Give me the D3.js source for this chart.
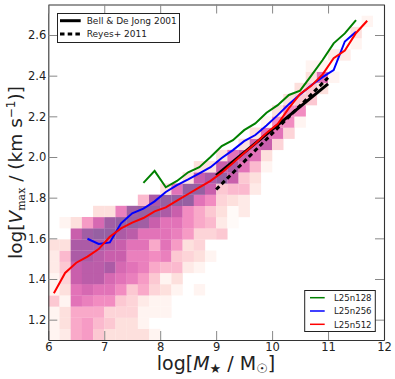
<!DOCTYPE html>
<html>
<head>
<meta charset="utf-8">
<script src="https://cdn.jsdelivr.net/npm/d3@7"></script>
<style>
  html, body { margin: 0; padding: 0; background: #fff; }
  text { font-family: "DejaVu Sans", sans-serif; fill: #222; }
</style>
</head>
<body>
<svg id="vis" width="395" height="379"></svg>
<script>
(function () {

  'use strict';

  // Colour level of each histogram cell, rows from the bottom, columns from logM = 6
  var binLevels = [
    [1, 1.5, 4, 4.5, 3, 2, 2, 2, 2, 1],
    [1, 2, 4, 4.5, 3.5, 3, 2, 2, 1, 0],
    [1, 2, 4, 4, 4, 2.5, 2.5, 2.5, 1, 1, 1],
    [3, 1, 6, 5.5, 5, 5, 3, 2.5, 1.5, 1, 1],
    [1, 2, 6, 6.5, 6, 6, 5, 3, 4, 2.5, 2, 1, 0, 1],
    [1, 2.5, 7, 7.5, 7.5, 6.5, 6, 5.5, 4.5, 3, 1, 2],
    [1.5, 3, 7, 7.5, 7.5, 8, 6.5, 6, 5.5, 4, 3.5, 3.5, 1.5, 1],
    [1.5, 3.5, 8, 8, 7.5, 7, 7, 5.5, 5.5, 5, 5.5, 3, 2.5, 2, 1],
    [2, 2, 8, 8, 8, 7.5, 7, 6, 6, 4, 6, 4.5, 2, 2.5],
    [0, 0, 7, 8.5, 9, 9, 8, 7.5, 6, 6, 6, 5.5, 4.5, 2.5, 2.5, 3],
    [0, 1, 2, 4.5, 6.5, 8.5, 9, 9, 8.5, 7, 6, 6, 5, 4, 3.5, 1.5, 0.5],
    [0, 0, 0, 0, 2, 2, 5.5, 8.5, 9, 9, 8, 7, 5, 4, 3, 2, 0.5, 1.5],
    [0, 0, 0, 0, 0, 0, 0, 0, 3.5, 8, 9, 9, 9, 6, 5, 2.5, 2, 1.5],
    [0, 0, 0, 0, 0, 0, 0, 0, 0, 0, 2, 6, 9, 9, 7, 3, 3.5, 3.5, 1.5],
    [0, 0, 0, 0, 0, 0, 0, 0, 0, 0, 0, 0, 2, 7, 8, 9, 7, 3, 2],
    [0, 0, 0, 0, 0, 0, 0, 0, 0, 0, 0, 0, 0, 2, 2, 7, 8, 6, 3.5, 1],
    [0, 0, 0, 0, 0, 0, 0, 0, 0, 0, 0, 0, 0, 0, 0, 2, 6, 7, 6, 2],
    [0, 0, 0, 0, 0, 0, 0, 0, 0, 0, 0, 0, 0, 0, 0, 0, 0, 2, 6.5, 7, 2.5],
    [0, 0, 0, 0, 0, 0, 0, 0, 0, 0, 0, 0, 0, 0, 0, 0, 0, 0, 2, 6, 6, 2.5],
    [0, 0, 0, 0, 0, 0, 0, 0, 0, 0, 0, 0, 0, 0, 0, 0, 0, 0, 0, 1, 5, 5, 1],
    [0, 0, 0, 0, 0, 0, 0, 0, 0, 0, 0, 0, 0, 0, 0, 0, 0, 0, 0, 0, 2, 5, 5],
    [0, 0, 0, 0, 0, 0, 0, 0, 0, 0, 0, 0, 0, 0, 0, 0, 0, 0, 0, 0, 0, 2, 3, 3],
    [0, 0, 0, 0, 0, 0, 0, 0, 0, 0, 0, 0, 0, 0, 0, 0, 0, 0, 0, 0, 0, 0, 2, 3, 2],
    [0, 0, 0, 0, 0, 0, 0, 0, 0, 0, 0, 0, 0, 0, 0, 0, 0, 0, 0, 0, 0, 0, 0, 2, 6, 1],
    [0, 0, 0, 0, 0, 0, 0, 0, 0, 0, 0, 0, 0, 0, 0, 0, 0, 0, 0, 0, 0, 0, 0, 1, 1],
    [0, 0, 0, 0, 0, 0, 0, 0, 0, 0, 0, 0, 0, 0, 0, 0, 0, 0, 0, 0, 0, 0, 0, 0, 0, 1.5, 1.5],
    [0, 0, 0, 0, 0, 0, 0, 0, 0, 0, 0, 0, 0, 0, 0, 0, 0, 0, 0, 0, 0, 0, 0, 0, 0, 0, 0, 1],
    [0, 0, 0, 0, 0, 0, 0, 0, 0, 0, 0, 0, 0, 0, 0, 0, 0, 0, 0, 0, 0, 0, 0, 0, 0, 0, 0, 2],
    [0, 0, 0, 0, 0, 0, 0, 0, 0, 0, 0, 0, 0, 0, 0, 0, 0, 0, 0, 0, 0, 0, 0, 0, 0, 0, 0, 0, 1]
  ];

  // Median relations
  var greenMass = [7.7, 7.9, 8.1, 8.3, 8.5, 8.7, 8.9, 9.1, 9.3, 9.5, 9.7, 9.9, 10.1, 10.3, 10.5, 10.7, 10.9, 11.1, 11.3, 11.5];
  var greenVmax = [1.873, 1.932, 1.851, 1.882, 1.925, 1.95, 2.0, 2.054, 2.083, 2.132, 2.165, 2.218, 2.255, 2.305, 2.326, 2.40, 2.476, 2.559, 2.608, 2.673];

  var blueMass = [6.7, 6.9, 7.1, 7.3, 7.5, 7.7, 7.9, 8.1, 8.3, 8.5, 8.7, 8.9, 9.1, 9.3, 9.5, 9.7, 9.9, 10.1, 10.3, 10.5, 10.7, 10.9, 11.1, 11.3, 11.5];
  var blueVmax = [1.598, 1.572, 1.58, 1.674, 1.723, 1.746, 1.782, 1.828, 1.862, 1.89, 1.92, 1.95, 1.995, 2.034, 2.078, 2.108, 2.155, 2.206, 2.26, 2.307, 2.353, 2.393, 2.427, 2.568, 2.616];

  var redMass = [6.1, 6.3, 6.5, 6.7, 6.9, 7.1, 7.3, 7.5, 7.7, 7.9, 8.1, 8.3, 8.5, 8.7, 8.9, 9.1, 9.3, 9.5, 9.7, 9.9, 10.1, 10.3, 10.5, 10.7, 10.9, 11.1, 11.3, 11.5, 11.7];
  var redVmax = [1.33, 1.43, 1.48, 1.51, 1.547, 1.608, 1.649, 1.677, 1.70, 1.733, 1.752, 1.785, 1.818, 1.851, 1.883, 1.923, 1.97, 2.02, 2.066, 2.118, 2.162, 2.24, 2.31, 2.35, 2.405, 2.486, 2.523, 2.61, 2.67];

  // Observed relations
  var bellMass = [9, 11];
  var bellVmax = [1.91, 2.36];
  var reyesMass = [9, 11];
  var reyesVmax = [1.84, 2.39];

  var xTicks = [6, 7, 8, 9, 10, 11, 12];
  var yTicks = [1.2, 1.4, 1.6, 1.8, 2.0, 2.2, 2.4, 2.6];

  var obsNames = ['Bell & De Jong 2001', 'Reyes+ 2011'];
  var simNames = ['L25n128', 'L25n256', 'L25n512'];

  // Settings
  var left = 48.3, right = 384, top = 4.5, bottom = 340;
  var binsPerSide = 30;

  var x = d3.scaleLinear().domain([6, 12]).range([left, right]);
  var y = d3.scaleLinear().domain([1.1, 2.75]).range([bottom, top]);

  var levelColor = d3.scaleLinear()
    .domain([0, 1, 2, 3, 4, 5, 6, 7, 8, 9])
    .range(['#ffffff', '#fff4f1', '#fde0dd', '#fcc8d2', '#f9a9c9', '#f28cc1', '#e273b8', '#c95fac', '#ac5ba6', '#9660a2']);

  var svg = d3.select('#vis');

  drawHist();
  drawLine(bellMass, bellVmax, '#000', 3, null);
  drawLine(reyesMass, reyesVmax, '#000', 3, '4.5,3.2');
  drawLine(greenMass, greenVmax, '#008000', 2, null);
  drawLine(blueMass, blueVmax, '#0000ff', 2, null);
  drawLine(redMass, redVmax, '#ff0000', 2, null);
  drawAxes();
  drawLabels();
  drawObsLegend();
  drawSimLegend();

  function drawHist() {

    var cells = [];
    var dx = 6 / binsPerSide;
    var dy = 1.65 / binsPerSide;

    binLevels.forEach(function (row, j) {
      row.forEach(function (level, i) {
        if (level > 0) {
          cells.push({ i: i, j: j, level: level });
        }
      });
    });

    svg.append('g')
      .selectAll('rect')
      .data(cells)
      .enter()
      .append('rect')
        .attr('x', function (d) { return x(6 + d.i * dx); })
        .attr('y', function (d) { return y(1.1 + (d.j + 1) * dy); })
        .attr('width', x(6 + dx) - x(6) + 0.2)
        .attr('height', y(1.1) - y(1.1 + dy) + 0.2)
        .attr('fill', function (d) { return levelColor(d.level); });
  }

  function drawLine(xs, ys, color, width, dash) {

    var line = d3.line()
      .x(function (d) { return x(d); })
      .y(function (d, i) { return y(ys[i]); });

    svg.append('path')
      .attr('d', line(xs))
      .attr('fill', 'none')
      .attr('stroke', color)
      .attr('stroke-width', width)
      .attr('stroke-dasharray', dash);
  }

  function drawAxes() {

    var gridX = d3.axisBottom(x).tickValues(xTicks).tickSize(-9).tickSizeOuter(0).tickPadding(3).tickFormat(d3.format('d'));
    var gridY = d3.axisLeft(y).tickValues(yTicks).tickSize(-9).tickSizeOuter(0).tickPadding(2).tickFormat(d3.format('.1f'));
    var topX = d3.axisTop(x).tickValues(xTicks).tickSize(-9).tickSizeOuter(0).tickFormat('');
    var rightY = d3.axisRight(y).tickValues(yTicks).tickSize(-9).tickSizeOuter(0).tickFormat('');

    [
      svg.append('g').attr('transform', 'translate(0,' + bottom + ')').call(gridX),
      svg.append('g').attr('transform', 'translate(' + left + ',0)').call(gridY),
      svg.append('g').attr('transform', 'translate(0,' + top + ')').call(topX),
      svg.append('g').attr('transform', 'translate(' + right + ',0)').call(rightY)
    ].forEach(function (axis) {
      axis.selectAll('.domain').attr('stroke', '#333').attr('stroke-width', 1.1);
      axis.selectAll('.tick line').attr('stroke', '#888').attr('stroke-width', 1);
      axis.selectAll('.tick text').attr('font-size', 11.5).attr('font-family', '"DejaVu Sans"').attr('fill', '#222');
    });
  }

  function drawLabels() {

    var xLabel = svg.append('text')
      .attr('x', 216)
      .attr('y', 370)
      .attr('text-anchor', 'middle')
      .attr('font-size', 19);

    xLabel.append('tspan').text('log[');
    xLabel.append('tspan').attr('font-style', 'italic').text('M');
    xLabel.append('tspan').attr('font-size', 13).attr('dy', 3).text('★');
    xLabel.append('tspan').attr('dy', -3).text(' / M');
    xLabel.append('tspan').attr('font-size', 13).attr('dy', 3).text('☉');
    xLabel.append('tspan').attr('dy', -3).text(']');

    var yLabel = svg.append('text')
      .attr('transform', 'translate(21.5,172.5) rotate(-90)')
      .attr('text-anchor', 'middle')
      .attr('font-size', 18.5);

    yLabel.append('tspan').text('log[');
    yLabel.append('tspan').attr('font-style', 'italic').text('V');
    yLabel.append('tspan').attr('font-size', 11).attr('dy', 3).attr('font-family', '"DejaVu Serif"').text('max');
    yLabel.append('tspan').attr('dy', -3).text(' / (km s');
    yLabel.append('tspan').attr('font-size', 12).attr('dy', -7).text('−1');
    yLabel.append('tspan').attr('dy', 7).text(')]');
  }

  function drawObsLegend() {

    var g = svg.append('g');

    g.append('rect')
      .attr('x', 57.5).attr('y', 13.5).attr('width', 122).attr('height', 29)
      .attr('fill', '#fff').attr('stroke', '#222').attr('stroke-width', 1);

    obsNames.forEach(function (name, i) {
      g.append('line')
        .attr('x1', 60).attr('x2', 80.7)
        .attr('y1', 20.7 + i * 13.3).attr('y2', 20.7 + i * 13.3)
        .attr('stroke', '#000').attr('stroke-width', 3)
        .attr('stroke-dasharray', i === 1 ? '4.5,3.2' : null);
      g.append('text')
        .attr('x', 86.7).attr('y', 24 + i * 13.3)
        .attr('font-size', 9)
        .text(name);
    });
  }

  function drawSimLegend() {

    var colors = ['#008000', '#0000ff', '#ff0000'];
    var g = svg.append('g');

    g.append('rect')
      .attr('x', 304.7).attr('y', 290.5).attr('width', 70.6).attr('height', 41)
      .attr('fill', '#fff').attr('stroke', '#222').attr('stroke-width', 1);

    simNames.forEach(function (name, i) {
      g.append('line')
        .attr('x1', 310).attr('x2', 324.7)
        .attr('y1', 297.7 + i * 13.3).attr('y2', 297.7 + i * 13.3)
        .attr('stroke', colors[i]).attr('stroke-width', 1.5);
      g.append('text')
        .attr('x', 334).attr('y', 301 + i * 13.3)
        .attr('font-size', 8.6)
        .text(name);
    });
  }
})();
</script>
</body>
</html>
